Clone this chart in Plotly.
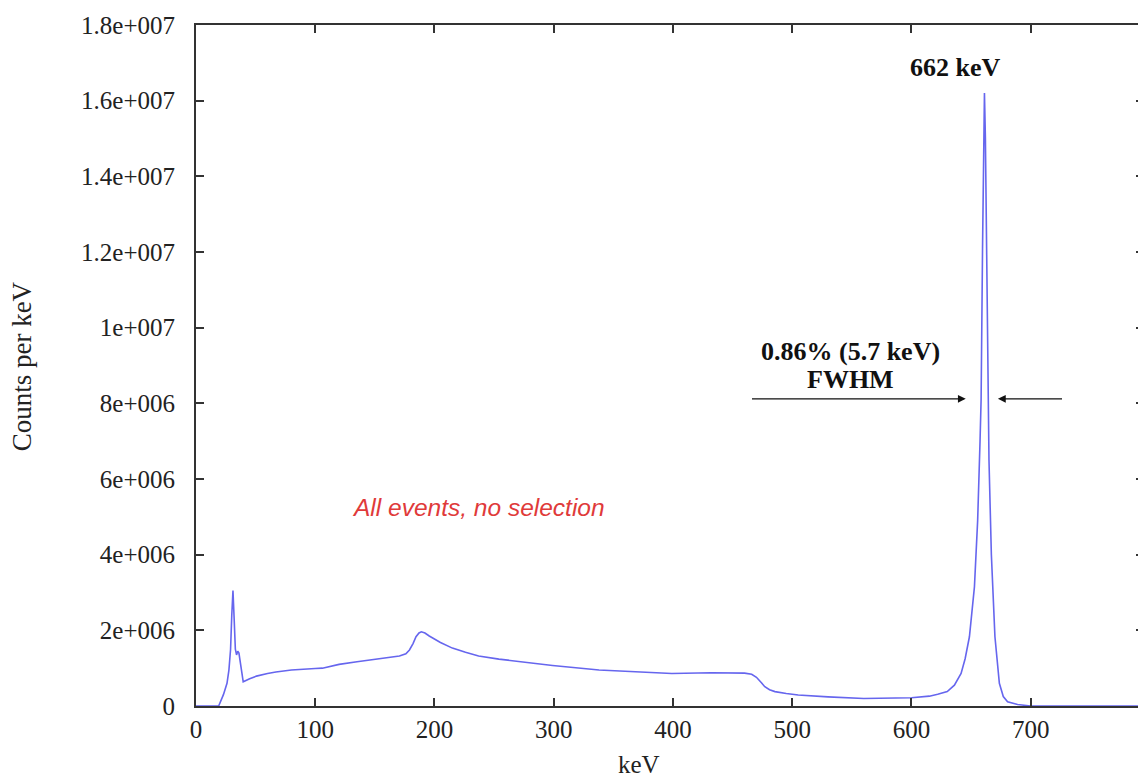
import plotly.graph_objects as go

# ---- data ----
energy_kev = [0, 19, 23, 26, 27.6, 29, 30, 31, 32, 33, 34, 35, 36, 37, 38, 39.6, 45, 50.7,
              60, 67, 80, 87, 100, 106, 120, 135, 148, 160, 170.6, 176, 179, 182, 184.5,
              187, 189, 192, 195.6, 205, 215, 226, 237, 254, 271, 299, 338, 370, 399,
              432, 460, 466, 470, 474, 477, 481, 485.5, 495, 505, 530, 560, 600, 615,
              622, 630, 636, 641.6, 645, 648.6, 652.8, 655.5, 657.5, 658.4, 659.6, 660.5,
              661.2, 662, 662.9, 664, 665, 667, 670, 673.7, 677, 680.6, 689, 700, 800]
counts_millions = [0, 0, 0.3, 0.6, 0.95, 1.5, 2.4, 3.05, 2.3, 1.5, 1.35, 1.45, 1.4, 1.2, 0.9,
                   0.64, 0.72, 0.79, 0.86, 0.9, 0.95, 0.97, 0.99, 1.0, 1.1, 1.17, 1.22, 1.27,
                   1.32, 1.38, 1.48, 1.65, 1.83, 1.93, 1.96, 1.93, 1.85, 1.68, 1.53, 1.42,
                   1.32, 1.24, 1.17, 1.07, 0.95, 0.9, 0.86, 0.88, 0.87, 0.84, 0.76, 0.62,
                   0.51, 0.43, 0.38, 0.33, 0.29, 0.24, 0.2, 0.22, 0.26, 0.31, 0.38, 0.55,
                   0.86, 1.25, 1.83, 3.15, 4.9, 7.0, 8.1, 12.1, 15.0, 16.2, 15.0, 12.1, 8.1,
                   6.5, 4.0, 1.83, 0.6, 0.25, 0.11, 0.04, 0.0, 0.0]

x_ticks = [0, 100, 200, 300, 400, 500, 600, 700, 800]
y_ticks = [0, 2e6, 4e6, 6e6, 8e6, 1e7, 1.2e7, 1.4e7, 1.6e7, 1.8e7]
y_tick_labels = ["0", "2e+006", "4e+006", "6e+006", "8e+006", "1e+007",
                 "1.2e+007", "1.4e+007", "1.6e+007", "1.8e+007"]

counts = [c * 1e6 for c in counts_millions]

SERIF = "Liberation Serif"

fig = go.Figure()
fig.add_trace(go.Scatter(x=energy_kev, y=counts, mode="lines",
                         line=dict(color="#6666ee", width=1.6),
                         hoverinfo="skip", showlegend=False))

axis_common = dict(showgrid=False, zeroline=False, showline=True, linecolor="#333333",
                   linewidth=2, ticks="inside", ticklen=8, tickwidth=1.5,
                   tickcolor="#333333", mirror="ticks",
                   tickfont=dict(family=SERIF, size=25, color="#222222"))

fig.update_xaxes(range=[0, 795], tickvals=x_ticks,
                 ticktext=[str(v) for v in x_ticks], **axis_common)
fig.update_yaxes(range=[0, 1.8e7], tickvals=y_ticks, ticktext=y_tick_labels,
                 ticklabelstandoff=14, **axis_common)

PW, PH = 950.0, 681.0  # plot area size in px
annotations = [
    dict(x=637, y=1.687e7, xref="x", yref="y", text="<b>662 keV</b>", showarrow=False,
         font=dict(family=SERIF, size=26, color="#111111")),
    dict(x=549, y=9.36e6, xref="x", yref="y", text="<b>0.86% (5.7 keV)</b>",
         showarrow=False, font=dict(family=SERIF, size=26, color="#111111")),
    dict(x=549, y=8.64e6, xref="x", yref="y", text="<b>FWHM</b>", showarrow=False,
         font=dict(family=SERIF, size=26, color="#111111")),
    dict(x=236.5, y=5.26e6, xref="x", yref="y", text="<i>All events, no selection</i>",
         showarrow=False, font=dict(family="Liberation Sans", size=24.5, color="#e03a3a")),
    # FWHM arrows
    dict(x=645.5, y=8.12e6, ax=465, ay=8.12e6, xref="x", yref="y", axref="x", ayref="y",
         text="", showarrow=True, arrowhead=2, arrowsize=1.2, arrowwidth=1.3,
         arrowcolor="#111111"),
    dict(x=672.5, y=8.12e6, ax=727.5, ay=8.12e6, xref="x", yref="y", axref="x", ayref="y",
         text="", showarrow=True, arrowhead=2, arrowsize=1.2, arrowwidth=1.3,
         arrowcolor="#111111"),
    # axis titles
    dict(x=(640 - 196) / PW, y=-(764 - 706) / PH, xref="paper", yref="paper",
         xanchor="center", yanchor="middle",
         text="keV", showarrow=False, font=dict(family=SERIF, size=25, color="#222222")),
    dict(x=-(196 - 22) / PW, y=(706 - 366) / PH, xref="paper", yref="paper",
         xanchor="center", yanchor="middle",
         text="Counts per keV", textangle=-90, showarrow=False,
         font=dict(family=SERIF, size=27, color="#222222")),
]

fig.update_layout(width=1138, height=775,
                  margin=dict(l=188, r=0, t=17, b=77, pad=0),
                  paper_bgcolor="white", plot_bgcolor="white",
                  annotations=annotations)

fig.write_html("out.html")
